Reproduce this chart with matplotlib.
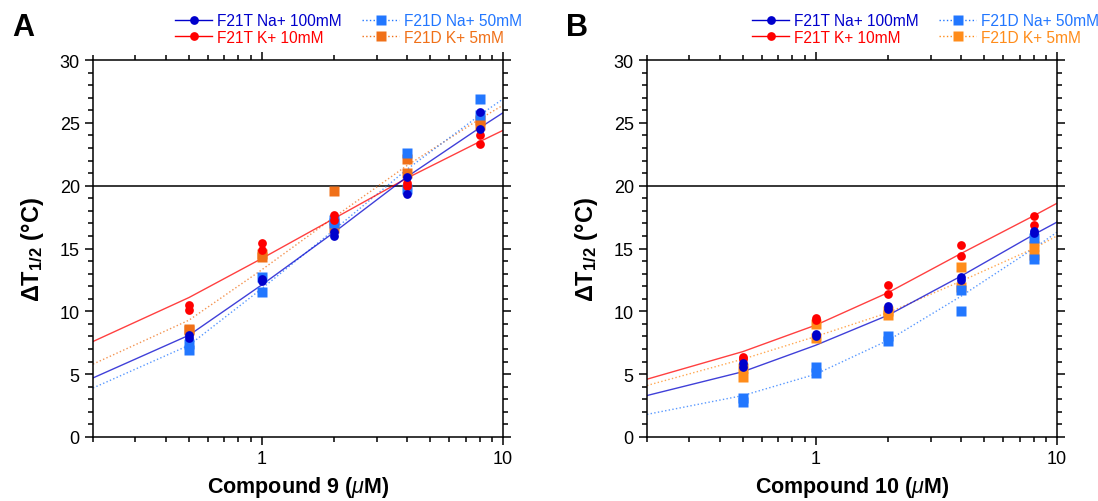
import numpy as np
import matplotlib
matplotlib.use("Agg")
import matplotlib.pyplot as plt
from matplotlib.ticker import FixedLocator, NullFormatter, MultipleLocator

plt.rcParams["font.family"] = ["Liberation Sans", "DejaVu Sans"]
plt.rcParams["mathtext.fontset"] = "custom"
plt.rcParams["mathtext.rm"] = "Liberation Sans"
plt.rcParams["mathtext.it"] = "Liberation Sans:italic"
plt.rcParams["mathtext.bf"] = "Liberation Sans:bold"

# concentrations (uM)
conc = [0.5, 1, 2, 4, 8]
fit_x = [0.2, 0.5, 1, 2, 4, 8, 10]

labels = ["F21T Na+ 100mM", "F21T K+ 10mM", "F21D Na+ 50mM", "F21D K+ 5mM"]

# Panel A - compound 9 (two replicates per series)
a_tna_1 = [8.1, 12.6, 16.3, 20.7, 25.9]
a_tna_2 = [7.9, 12.4, 16.0, 19.3, 24.5]
a_tk_1 = [10.5, 15.4, 17.7, 20.2, 24.0]
a_tk_2 = [10.1, 14.9, 17.3, 20.0, 23.3]
a_dna_1 = [7.4, 12.7, 17.3, 22.6, 26.9]
a_dna_2 = [6.9, 11.5, 17.0, 19.7, 25.6]
a_dk_1 = [8.6, 14.6, 19.6, 22.1, 25.2]
a_dk_2 = [8.5, 14.3, 16.6, 21.0, 24.8]

# fitted curves
a_tna_fit = [4.7, 8.1, 12.1, 16.3, 20.7, 24.6, 25.8]
a_tk_fit = [7.6, 11.1, 14.2, 17.4, 20.6, 23.5, 24.4]
a_dna_fit = [3.9, 7.3, 11.8, 16.5, 21.3, 25.6, 26.9]
a_dk_fit = [5.8, 9.3, 13.3, 17.5, 21.6, 25.3, 26.4]

# Panel B - compound 10
b_tna_1 = [5.9, 8.2, 10.4, 12.7, 16.4]
b_tna_2 = [5.6, 8.0, 10.2, 12.5, 16.2]
b_tk_1 = [6.4, 9.5, 12.1, 15.3, 17.6]
b_tk_2 = [6.2, 9.3, 11.4, 14.4, 16.9]
b_dna_1 = [3.1, 5.6, 8.0, 11.7, 15.8]
b_dna_2 = [2.8, 5.1, 7.6, 10.0, 14.2]
b_dk_1 = [5.5, 9.0, 10.0, 13.5, 15.2]
b_dk_2 = [4.8, 7.9, 9.7, 11.9, 14.5]

b_tna_fit = [3.3, 5.2, 7.3, 9.7, 12.8, 16.1, 17.1]
b_tk_fit = [4.6, 6.8, 8.9, 11.5, 14.6, 17.6, 18.6]
b_dna_fit = [1.8, 3.3, 5.0, 7.7, 11.2, 15.0, 16.3]
b_dk_fit = [4.1, 6.2, 8.0, 9.9, 12.4, 15.0, 16.0]

col_tna = "#0000cc"
col_tk = "#ff0000"
col_dna = "#2277ff"

fig = plt.figure(figsize=(10.98, 5.02), dpi=100)
ax_a = fig.add_axes([93 / 1098, 1 - 438 / 502, 410 / 1098, 377 / 502])
ax_b = fig.add_axes([647 / 1098, 1 - 438 / 502, 410 / 1098, 377 / 502])


def draw(ax, series, fits, col_dk, xname, legend_x):
    cols = [col_tna, col_tk, col_dna, col_dk]
    styles = ["-", "-", ":", ":"]
    markers = ["o", "o", "s", "s"]
    sizes = [6.3, 6.3, 6.8, 6.8]
    handles = []
    for i in [3, 2, 1, 0]:
        ax.plot(fit_x, fits[i], color=cols[i], ls=styles[i], lw=1,
                alpha=0.75, zorder=2)
    for i in [3, 2, 1, 0]:
        for rep in series[i]:
            ax.plot(conc, rep, ls="none", marker=markers[i], ms=sizes[i],
                    color=cols[i], mec="none", zorder=3)
    for i in range(4):
        h, = ax.plot([], [], color=cols[i], ls=styles[i], lw=1,
                     marker=markers[i], ms=sizes[i], mec="none")
        handles.append(h)
    ax.axhline(20, color="black", lw=1.1, zorder=1)

    ax.set_xscale("log")
    ax.set_xlim(0.2, 10)
    ax.set_ylim(0, 30)
    ax.xaxis.set_major_locator(FixedLocator([1, 10]))
    ax.xaxis.set_minor_locator(FixedLocator([0.2, 0.3, 0.4, 0.5, 0.6, 0.7, 0.8, 0.9,
                                             2, 3, 4, 5, 6, 7, 8, 9]))
    ax.xaxis.set_major_formatter(matplotlib.ticker.FixedFormatter(["1", "10"]))
    ax.xaxis.set_minor_formatter(NullFormatter())
    ax.yaxis.set_major_locator(MultipleLocator(5))
    ax.yaxis.set_minor_locator(MultipleLocator(1))
    ax.tick_params(which="both", direction="out", top=True, right=True,
                   labelsize=13, width=1.1)
    ax.tick_params(which="major", length=6)
    ax.tick_params(which="minor", length=3.5)
    for s in ax.spines.values():
        s.set_linewidth(1.1)

    ax.set_xlabel(xname, fontsize=15.5, fontweight="bold", labelpad=5)
    ax.set_ylabel(r"$\mathbf{\Delta T_{1/2}}$ (°C)", fontsize=17,
                  fontweight="bold", labelpad=10)

    ax.legend(handles, labels, loc="upper left", ncol=2, frameon=False,
              bbox_to_anchor=(legend_x / 1098, 1 - 14 / 502),
              bbox_transform=fig.transFigure, borderaxespad=0, borderpad=0,
              fontsize=11.2, handlelength=2.4, handletextpad=0.3,
              columnspacing=1.3, labelspacing=0.1, numpoints=1,
              labelcolor="linecolor")


draw(ax_a,
     [(a_tna_1, a_tna_2), (a_tk_1, a_tk_2), (a_dna_1, a_dna_2), (a_dk_1, a_dk_2)],
     [a_tna_fit, a_tk_fit, a_dna_fit, a_dk_fit],
     "#f07018", r"Compound 9 ($\mu$M)", 175)
draw(ax_b,
     [(b_tna_1, b_tna_2), (b_tk_1, b_tk_2), (b_dna_1, b_dna_2), (b_dk_1, b_dk_2)],
     [b_tna_fit, b_tk_fit, b_dna_fit, b_dk_fit],
     "#ff8c1a", r"Compound 10 ($\mu$M)", 752)

fig.text(12 / 1098, 1 - 36 / 502, "A", fontsize=22, fontweight="bold")
fig.text(566 / 1098, 1 - 36 / 502, "B", fontsize=22, fontweight="bold")

fig.savefig("out.png", dpi=100)
